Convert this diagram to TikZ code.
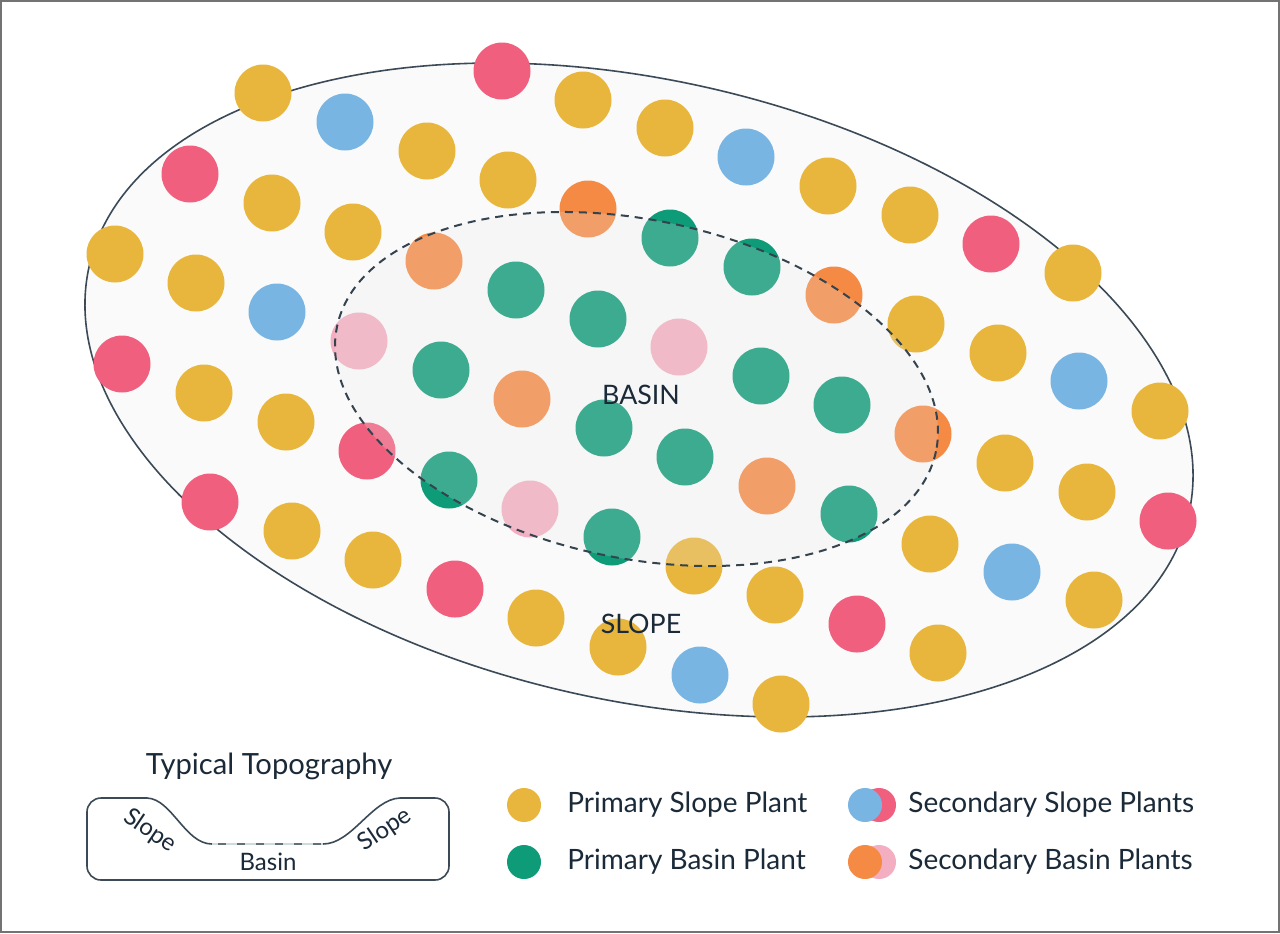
\documentclass[tikz,border=0pt]{standalone}
\usepackage{fontspec}
\setmainfont{Lato}
\begin{document}
\begin{tikzpicture}[x=0.5pt,y=-0.5pt,
  plant/.style={circle,inner sep=0pt,minimum size=28.5pt,draw=none},
  lplant/.style={circle,inner sep=0pt,minimum size=17pt,draw=none},
  lbl/.style={text=cink,inner sep=0pt},
  legtxt/.style={text=cink,inner sep=0pt,anchor=west,font=\fontsize{14pt}{16pt}\selectfont}]
\definecolor{cyel}{HTML}{E8B63C}
\definecolor{cblue}{HTML}{79B5E2}
\definecolor{cred}{HTML}{F0607E}
\definecolor{cgreen}{HTML}{0E9B78}
\definecolor{corange}{HTML}{F58A44}
\definecolor{cpink}{HTML}{F4AEC1}
\definecolor{cink}{HTML}{1B2A38}
\definecolor{cline}{HTML}{3B4A56}
\definecolor{cbg}{HTML}{FAFAFA}
\definecolor{cinner}{HTML}{E8E8E8}
\definecolor{cbasin}{HTML}{CFDADD}
\useasboundingbox (0,0) rectangle (1280,933);
\fill[white] (0,0) rectangle (1280,933);
\draw[black!55,line width=0.6pt] (1,1) rectangle (1279,932);
% outer ellipse
\begin{scope}[shift={(639,390)},rotate=-12.7]
\draw[cline,fill=cbg,line width=0.8pt] (0,0) ellipse [x radius=563.6,y radius=310.1];
\end{scope}
% plants
\foreach \x/\y [count=\i] in {263/93,583/100,665/128,427/151,508/180,272/203,353/232,828/186,910/215,115/254,196/283,1073/273,916/324,998/353,204/393,286/422,1160/411,1005/463,1087/492,292/531,373/560,694/566,930/544,775/595,536/618,1094/600,618/647,938/653,781/704}
  \node[plant,fill=cyel] (y\i) at (\x,\y) {};
\foreach \x/\y [count=\i] in {345/122,746/157,277/312,1079/381,1012/572,700/675}
  \node[plant,fill=cblue] (b\i) at (\x,\y) {};
\foreach \x/\y [count=\i] in {502/71,190/174,991/244,122/364,367/451,210/502,1168/521,455/589,857/624}
  \node[plant,fill=cred] (r\i) at (\x,\y) {};
\foreach \x/\y [count=\i] in {670/238,752/267,516/290,598/319,441/370,761/376,842/405,604/428,685/457,449/480,849/514,612/537}
  \node[plant,fill=cgreen] (g\i) at (\x,\y) {};
\foreach \x/\y [count=\i] in {588/209,434/261,834/295,522/399,923/434,767/486}
  \node[plant,fill=corange] (o\i) at (\x,\y) {};
\foreach \x/\y [count=\i] in {359/341,679/347,530/509}
  \node[plant,fill=cpink] (p\i) at (\x,\y) {};
% inner ellipse
\begin{scope}[shift={(636.5,389)},rotate=-11.75]
\fill[cinner,fill opacity=0.22] (0,0) ellipse [x radius=305.9,y radius=169.2];
\draw[cline!90!black,line width=1pt,dash pattern=on 4pt off 3pt] (0,0) ellipse [x radius=305.9,y radius=169.2];
\end{scope}
\node[lbl,font=\fontsize{13.4pt}{15pt}\selectfont] (basin) at (641,395) {BASIN};
\node[lbl,font=\fontsize{13.4pt}{15pt}\selectfont] (slope) at (641,624) {SLOPE};
% topography
\node[lbl,font=\fontsize{14.6pt}{17pt}\selectfont] (topo) at (269,766) {Typical Topography};
\draw[cline,line width=0.8pt,rounded corners=7pt] (147,798) -- (87,798) -- (87,880) -- (449,880) -- (449,798) -- (400,798);
\draw[cline,line width=0.8pt] (147,798) .. controls (172,799) and (185,844) .. (212,844);
\draw[cline,line width=0.8pt] (323,844) .. controls (352,844) and (372,799) .. (400,798);
\draw[cbasin,line width=0.9pt] (212,844) -- (323,844);
\draw[cline!80,line width=0.9pt,dash pattern=on 4pt off 5.5pt,dash phase=-3pt] (212,844) -- (323,844);
\node[lbl,font=\fontsize{12pt}{14pt}\selectfont,rotate=-34] (sl1) at (150,831) {Slope};
\node[lbl,font=\fontsize{12pt}{14pt}\selectfont,rotate=34] (sl2) at (385,830) {Slope};
\node[lbl,font=\fontsize{12pt}{14pt}\selectfont] (bas) at (268,862) {Basin};
% legend
\node[lplant,fill=cyel] (ly) at (524,805) {};
\node[lplant,fill=cgreen] (lg) at (524,862) {};
\node[lplant,fill=cred] (lr) at (879,805) {};
\node[lplant,fill=cblue] (lb) at (865,805) {};
\node[lplant,fill=cpink] (lp) at (879,862) {};
\node[lplant,fill=corange] (lo) at (865,862) {};
\node[legtxt] (t1) at (567,805) {Primary Slope Plant};
\node[legtxt] (t2) at (567,862) {Primary Basin Plant};
\node[legtxt] (t3) at (908,805) {Secondary Slope Plants};
\node[legtxt] (t4) at (908,862) {Secondary Basin Plants};
\end{tikzpicture}
\end{document}
